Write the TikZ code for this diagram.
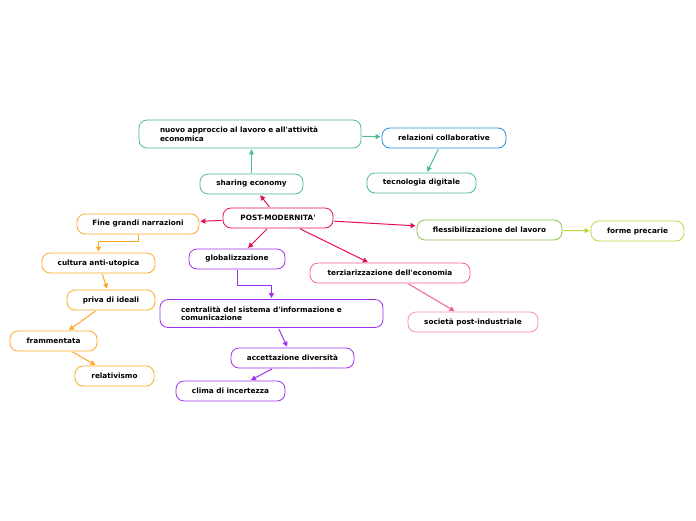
\documentclass[tikz,border=0pt]{standalone}
\usepackage{fontspec}
\setmainfont{DejaVu Sans}[Ligatures=TeXOff]
\usetikzlibrary{arrows.meta}
\definecolor{cRoot}{HTML}{E5104F}
\definecolor{cTeal}{HTML}{4DBA98}
\definecolor{cBlue}{HTML}{2090E0}
\definecolor{cOrange}{HTML}{FFA826}
\definecolor{cPurple}{HTML}{A030F0}
\definecolor{cGreen}{HTML}{8CBF4A}
\definecolor{cLime}{HTML}{C2D43C}
\definecolor{cPink}{HTML}{F0609A}
\definecolor{cPinkL}{HTML}{F48CB4}
\tikzset{
  box/.style={draw, fill=white, rounded corners=8pt, line width=0.8pt,
    minimum height=20pt, inner sep=0pt, font=\fontsize{7.3}{8.6}\selectfont\bfseries},
  widebox/.style={box, minimum height=28pt, align=left, inner xsep=21pt, inner ysep=0pt},
  conn/.style={line width=1pt, -{Triangle[length=5pt,width=5pt]}, shorten >=1pt, shorten <=1pt},
}
\begin{document}
\begin{tikzpicture}[x=1pt,y=-1pt]
\useasboundingbox[fill=white] (0,0) rectangle (696,520);
% nodes
\node[box, draw=cRoot, minimum width=110pt] (root) at (278,218) {POST-MODERNITA'};
\node[box, draw=cTeal, minimum width=103pt] (share) at (251.5,184) {sharing economy};
\node[widebox, draw=cTeal, text width=180pt] (nuovo) at (250,134) {nuovo approccio al lavoro e all'attività\\economica};
\node[box, draw=cBlue, minimum width=124pt] (rel) at (444,138) {relazioni collaborative};
\node[box, draw=cTeal, minimum width=109pt] (tec) at (421.5,183) {tecnologia digitale};
\node[box, draw=cOrange, minimum width=122pt] (fine) at (138,224) {Fine grandi narrazioni};
\node[box, draw=cOrange, minimum width=113pt] (cult) at (98.5,263) {cultura anti-utopica};
\node[box, draw=cOrange, minimum width=88pt] (priva) at (111,300) {priva di ideali};
\node[box, draw=cOrange, minimum width=87pt] (fram) at (53.5,341) {frammentata};
\node[box, draw=cOrange, minimum width=79pt] (relat) at (114.5,376) {relativismo};
\node[box, draw=cPurple, minimum width=96pt] (glob) at (237,259) {globalizzazione};
\node[widebox, draw=cPurple, text width=181pt, inner xsep=21pt] (cent) at (271.5,313.5) {centralità del sistema d'informazione e\\comunicazione};
\node[box, draw=cPurple, minimum width=123pt] (acc) at (292.5,358) {accettazione diversità};
\node[box, draw=cPurple, minimum width=109pt] (clima) at (230.5,391) {clima di incertezza};
\node[box, draw=cGreen, minimum width=145pt] (fles) at (489.5,230) {flessibilizzazione del lavoro};
\node[box, draw=cLime, minimum width=93pt] (forme) at (637.5,231) {forme precarie};
\node[box, draw=cPink, minimum width=160pt] (terz) at (390,273) {terziarizzazione dell'economia};
\node[box, draw=cPinkL, minimum width=130pt] (soc) at (473,322) {società post-industriale};
% connectors
\draw[conn, cRoot] (root) -- (share);
\draw[conn, cRoot] (root) -- (fine);
\draw[conn, cRoot] (root) -- (glob);
\draw[conn, cRoot] (root) -- (fles);
\draw[conn, cRoot] (root) -- (terz);
\draw[conn, cTeal] (share) -- (share |- nuovo.south);
\draw[conn, cTeal] (nuovo) -- (rel);
\draw[conn, cTeal] (rel) -- (tec);
\draw[conn, cOrange, rounded corners=0pt] (fine.south) -- ++(0,7) -| (cult.north);
\draw[conn, cOrange] (cult) -- (priva);
\draw[conn, cOrange] (priva) -- (fram);
\draw[conn, cOrange] (fram) -- (relat);
\draw[conn, cPurple] (glob.south) -- ++(0,16) -| (cent.north);
\draw[conn, cPurple] (cent) -- (acc);
\draw[conn, cPurple] (acc) -- (clima);
\draw[conn, cLime] (fles) -- (forme);
\draw[conn, cPink] (terz) -- (soc);
\end{tikzpicture}
\end{document}
